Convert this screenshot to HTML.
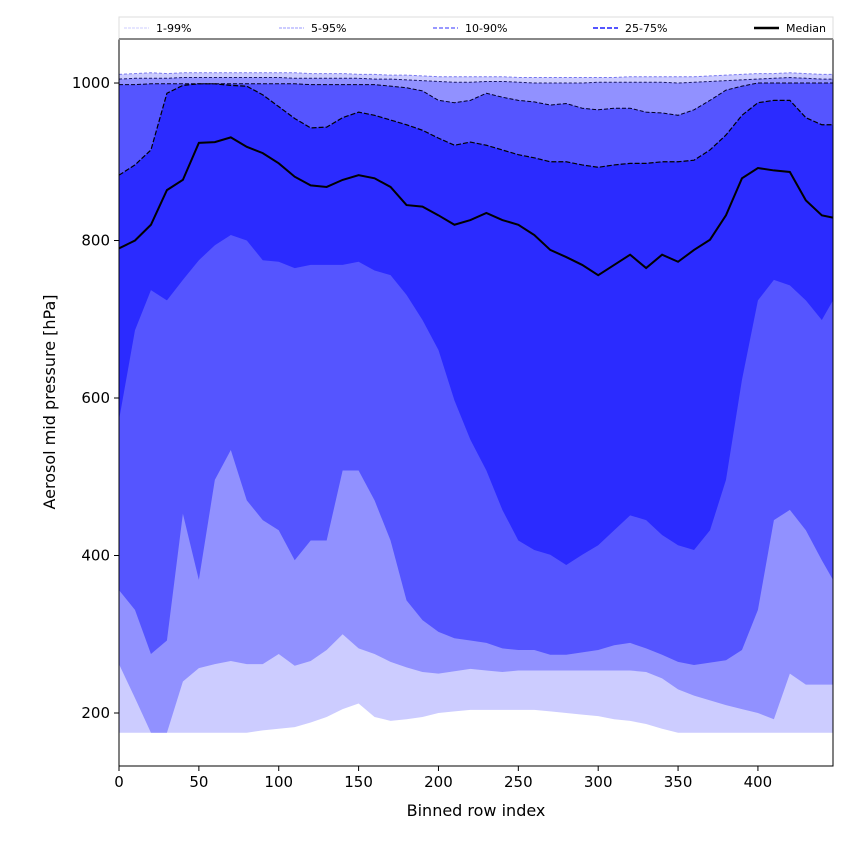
<!DOCTYPE html>
<html><head><meta charset="utf-8"><style>
body{margin:0;background:#fff;}
svg text{font-family:"DejaVu Sans","Liberation Sans",sans-serif;fill:#000;}
</style></head><body>
<svg id="c" width="850" height="850" viewBox="0 0 850 850"></svg>
<script>
const xs = [0,10,20,30,40,50,60,70,80,90,100,110,120,130,140,150,160,170,180,190,200,210,220,230,240,250,260,270,280,290,300,310,320,330,340,350,360,370,380,390,400,410,420,430,440,447];
const p1  = [175,175,175,175,175,175,175,175,175,178,180,182,188,195,205,212,195,190,192,195,200,202,204,204,204,204,204,202,200,198,196,192,190,186,180,175,175,175,175,175,175,175,175,175,175,175];
const p5  = [262,219,175,175,240,257,262,266,262,262,275,260,266,280,300,282,275,265,258,252,250,253,256,254,252,254,254,254,254,254,254,254,254,252,244,230,222,216,210,205,200,192,250,236,236,236];
const p10 = [356,331,275,292,453,369,496,534,470,445,432,394,419,419,508,508,470,419,343,318,303,295,292,289,282,280,280,274,274,277,280,286,289,282,274,265,261,264,267,280,331,445,458,432,394,369];
const p25 = [572,686,737,724,750,775,794,807,800,775,773,765,769,769,769,773,762,756,731,699,661,597,547,508,458,419,407,401,388,401,413,432,451,445,426,413,407,432,496,623,724,750,743,724,699,724];
const p50 = [790,800,820,864,877,924,925,931,919,911,898,881,870,868,877,883,879,868,845,843,832,820,826,835,826,820,807,788,779,769,756,769,782,765,782,773,788,801,832,879,892,889,887,851,832,829];
const p75 = [883,896,915,987,997,999,999,997,996,985,970,955,943,944,956,963,959,953,947,940,930,921,925,921,915,909,905,900,900,896,893,896,898,898,900,900,902,915,934,959,975,978,978,956,947,947];
const p90 = [998,998,999,999,999,999,999,999,999,999,999,999,998,998,998,998,998,996,994,990,978,975,978,987,982,978,976,972,974,968,966,968,968,963,962,959,966,978,991,996,1000,1000,1000,1000,1000,1000];
const p95 = [1005,1006,1006,1006,1007,1007,1007,1007,1007,1007,1007,1006,1006,1006,1006,1006,1005,1005,1004,1003,1002,1001,1001,1002,1002,1001,1000,1000,1000,1000,1001,1001,1001,1001,1001,1000,1001,1002,1003,1004,1005,1006,1007,1006,1005,1005];
const p99 = [1011,1012,1013,1012,1013,1013,1013,1013,1013,1013,1013,1013,1012,1012,1012,1011,1011,1010,1010,1009,1008,1008,1008,1008,1008,1007,1007,1007,1007,1007,1007,1007,1008,1008,1008,1008,1008,1009,1010,1011,1012,1012,1013,1012,1011,1011];
const xTicks = [0,50,100,150,200,250,300,350,400];
const yTicks = [200,400,600,800,1000];
const legendLabels = ["1-99%","5-95%","10-90%","25-75%","Median"];

const L=119,R=833,T=39,B=766, X0=0,X1=447, Y0=132.7,Y1=1055.9;
const sx=v=>L+(v-X0)/(X1-X0)*(R-L);
const sy=v=>B-(v-Y0)/(Y1-Y0)*(B-T);
const svg=document.getElementById('c');
const NS='http://www.w3.org/2000/svg';
function mk(t,a,p){const e=document.createElementNS(NS,t);for(const k in a)e.setAttribute(k,a[k]);(p||svg).appendChild(e);return e;}
const clip=mk('clipPath',{id:'pc'});mk('rect',{x:L,y:T,width:R-L,height:B-T},clip);
const g=mk('g',{'clip-path':'url(#pc)'});
function band(lo,hi,fill,name){
  let d='M'+xs.map((x,i)=>sx(x)+','+sy(hi[i])).join('L');
  for(let i=xs.length-1;i>=0;i--)d+='L'+sx(xs[i])+','+sy(lo[i]);
  const e=mk('path',{d:d+'Z',fill:fill},g);
  
  
}
function line(arr,stroke,w,dash,name){
  const e=mk('path',{d:'M'+xs.map((x,i)=>sx(x)+','+sy(arr[i])).join('L'),fill:'none',stroke:stroke,'stroke-width':w,'stroke-dasharray':dash},g);
  
  
}
band(p1,p99,'#ccccff','band-1-99');
band(p5,p95,'#9191ff','band-5-95');
band(p10,p90,'#5555ff','band-10-90');
band(p25,p75,'#2b2bff','band-25-75');
line(p99,'#7777ee',1,'3,2','line-p99');
line(p95,'#1a1a66',1,'3,2','line-p95');
line(p90,'#000022',1,'4,2','line-p90');
line(p75,'#000000',1.2,'5,2','line-p75');
line(p50,'#000000',2,'','median-line');
mk('rect',{x:L,y:T,width:R-L,height:B-T,fill:'none',stroke:'#000','stroke-width':1});
xTicks.forEach(v=>{const x=sx(v);mk('line',{x1:x,x2:x,y1:B,y2:B+5,stroke:'#000'});
  const t=mk('text',{x:x,y:B+21,'text-anchor':'middle','font-size':15});t.textContent=v;
  
  });
yTicks.forEach(v=>{const y=sy(v);mk('line',{x1:L-5,x2:L,y1:y,y2:y,stroke:'#000'});
  const t=mk('text',{x:L-9,y:y+5,'text-anchor':'end','font-size':15});t.textContent=v;
  
  });
const xt=mk('text',{x:(L+R)/2,y:816,'text-anchor':'middle','font-size':16});xt.textContent='Binned row index';


const yt=mk('text',{x:0,y:0,'text-anchor':'middle','font-size':16,transform:'translate(55,402) rotate(-90)'});yt.textContent='Aerosol mid pressure [hPa]';


const lg=mk('g',{});


mk('rect',{x:L,y:17,width:R-L,height:22,fill:'#fff',stroke:'#ddd'},lg);
mk('line',{x1:L,x2:R,y1:39,y2:39,stroke:'#888','stroke-width':2},lg);
const lstyle=[['#ccccff',1,'3,1'],['#9999ff',1,'3,1'],['#7777ff',1.5,'4,2'],['#5555ff',2,'5,2'],['#000',2.5,'']];
const lx=[124,279,433,593,754];
legendLabels.forEach((lab,i)=>{
  const e=mk('g',{},lg);
  
  
  mk('line',{x1:lx[i],x2:lx[i]+25,y1:28,y2:28,stroke:lstyle[i][0],'stroke-width':lstyle[i][1],'stroke-dasharray':lstyle[i][2]},e);
  const t=mk('text',{x:lx[i]+32,y:32,'font-size':11},e);t.textContent=lab;
});
</script>
</body></html>
